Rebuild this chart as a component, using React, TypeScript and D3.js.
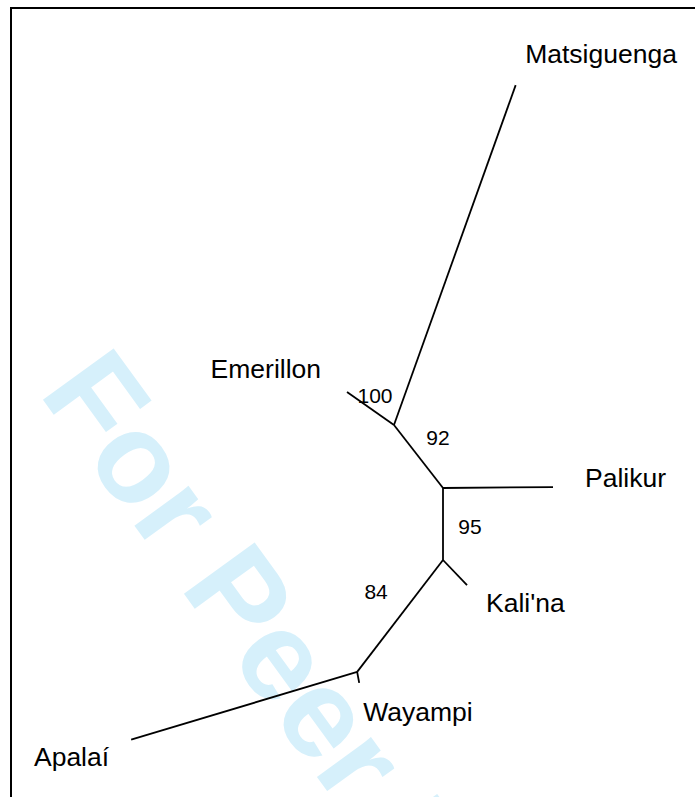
import React from "react";
import * as d3 from "d3";

// unrooted tree, edges listed parent -> child, lengths in substitutions/site
const parents = ["B", "A", "A", "B", "B", "C", "C", "D", "D"];
const children = ["A", "Matsiguenga", "Emerillon", "Palikur", "C", "Kali'na", "D", "Wayampi", "Apalaí"];
const branchLengths = [0.0798, 0.361, 0.0574, 0.11, 0.072, 0.0347, 0.141, 0.0112, 0.236];
const bootstrap = [92, null, 100, null, 95, null, 84, null, null];

// drawing angles of each edge (deg, screen coords)
const angles = [-127.9, -70.3, -144.9, -0.5, 90, 46.2, 127.5, 79.7, 163.3];
// label placement: [dx, dy, anchor]
const leafLabelPos: Record<string, [number, number, string]> = {
  Matsiguenga: [9.5, -22, "start"],
  Emerillon: [-26, -14, "end"],
  Palikur: [32, 0, "start"],
  "Kali'na": [19, 27, "start"],
  Wayampi: [4, 38, "start"],
  "Apalaí": [-22, 26, "end"],
};
const bootPos: [number, number][] = [
  [19.5, -19.5], [0, 0], [4.5, -13.5], [0, 0], [27, 2], [0, 0], [-24, -24], [0, 0], [0, 0],
];

const FONT = "'Liberation Sans', Arial, sans-serif";

const App = () => {
  const width = 695;
  const height = 797;

  const x = d3.scaleLinear().domain([0, 0.1]).range([443, 543]);
  const y = d3.scaleLinear().domain([0, 0.1]).range([488, 588]);

  const pos: Record<string, { x: number; y: number }> = { B: { x: 0, y: 0 } };
  parents.forEach((p, i) => {
    const a = (angles[i] * Math.PI) / 180;
    pos[children[i]] = {
      x: pos[p].x + branchLengths[i] * Math.cos(a),
      y: pos[p].y + branchLengths[i] * Math.sin(a),
    };
  });

  const line = d3.line<{ x: number; y: number }>()
    .x(d => x(d.x))
    .y(d => y(d.y));

  return (
    <svg
      width={width}
      height={height}
      style={{ position: "absolute", left: 0, top: 0, background: "#fff" }}
    >
      <rect x={0} y={0} width={width} height={height} fill="#fff" />
      <text
        transform="translate(38,393) rotate(54)"
        fontFamily={FONT}
        fontWeight="bold"
        fontSize={127}
        fill="#d6f0fb"
      >
        For Peer Review
      </text>
      <rect x={11} y={8} width={width + 20} height={height + 20} fill="none" stroke="#000" strokeWidth={2} />
      <g>
        {parents.map((p, i) => (
          <path
            key={i}
            d={line([pos[p], pos[children[i]]]) || ""}
            stroke="#000"
            strokeWidth={1.8}
            fill="none"
          />
        ))}
      </g>
      <g fontFamily={FONT} fontSize={26.5} fill="#000">
        {children
          .filter(c => leafLabelPos[c])
          .map(c => {
            const [dx, dy, anchor] = leafLabelPos[c];
            return (
              <text key={c} x={x(pos[c].x) + dx} y={y(pos[c].y) + dy} textAnchor={anchor}>
                {c}
              </text>
            );
          })}
      </g>
      <g fontFamily={FONT} fontSize={21} fill="#000">
        {bootstrap.map((b, i) => {
          if (b == null) return null;
          const p = pos[parents[i]];
          const c = pos[children[i]];
          const mx = (x(p.x) + x(c.x)) / 2 + bootPos[i][0];
          const my = (y(p.y) + y(c.y)) / 2 + bootPos[i][1];
          return (
            <text key={i} x={mx} y={my} textAnchor="middle" dominantBaseline="central">
              {b}
            </text>
          );
        })}
      </g>
    </svg>
  );
};

export default App;
